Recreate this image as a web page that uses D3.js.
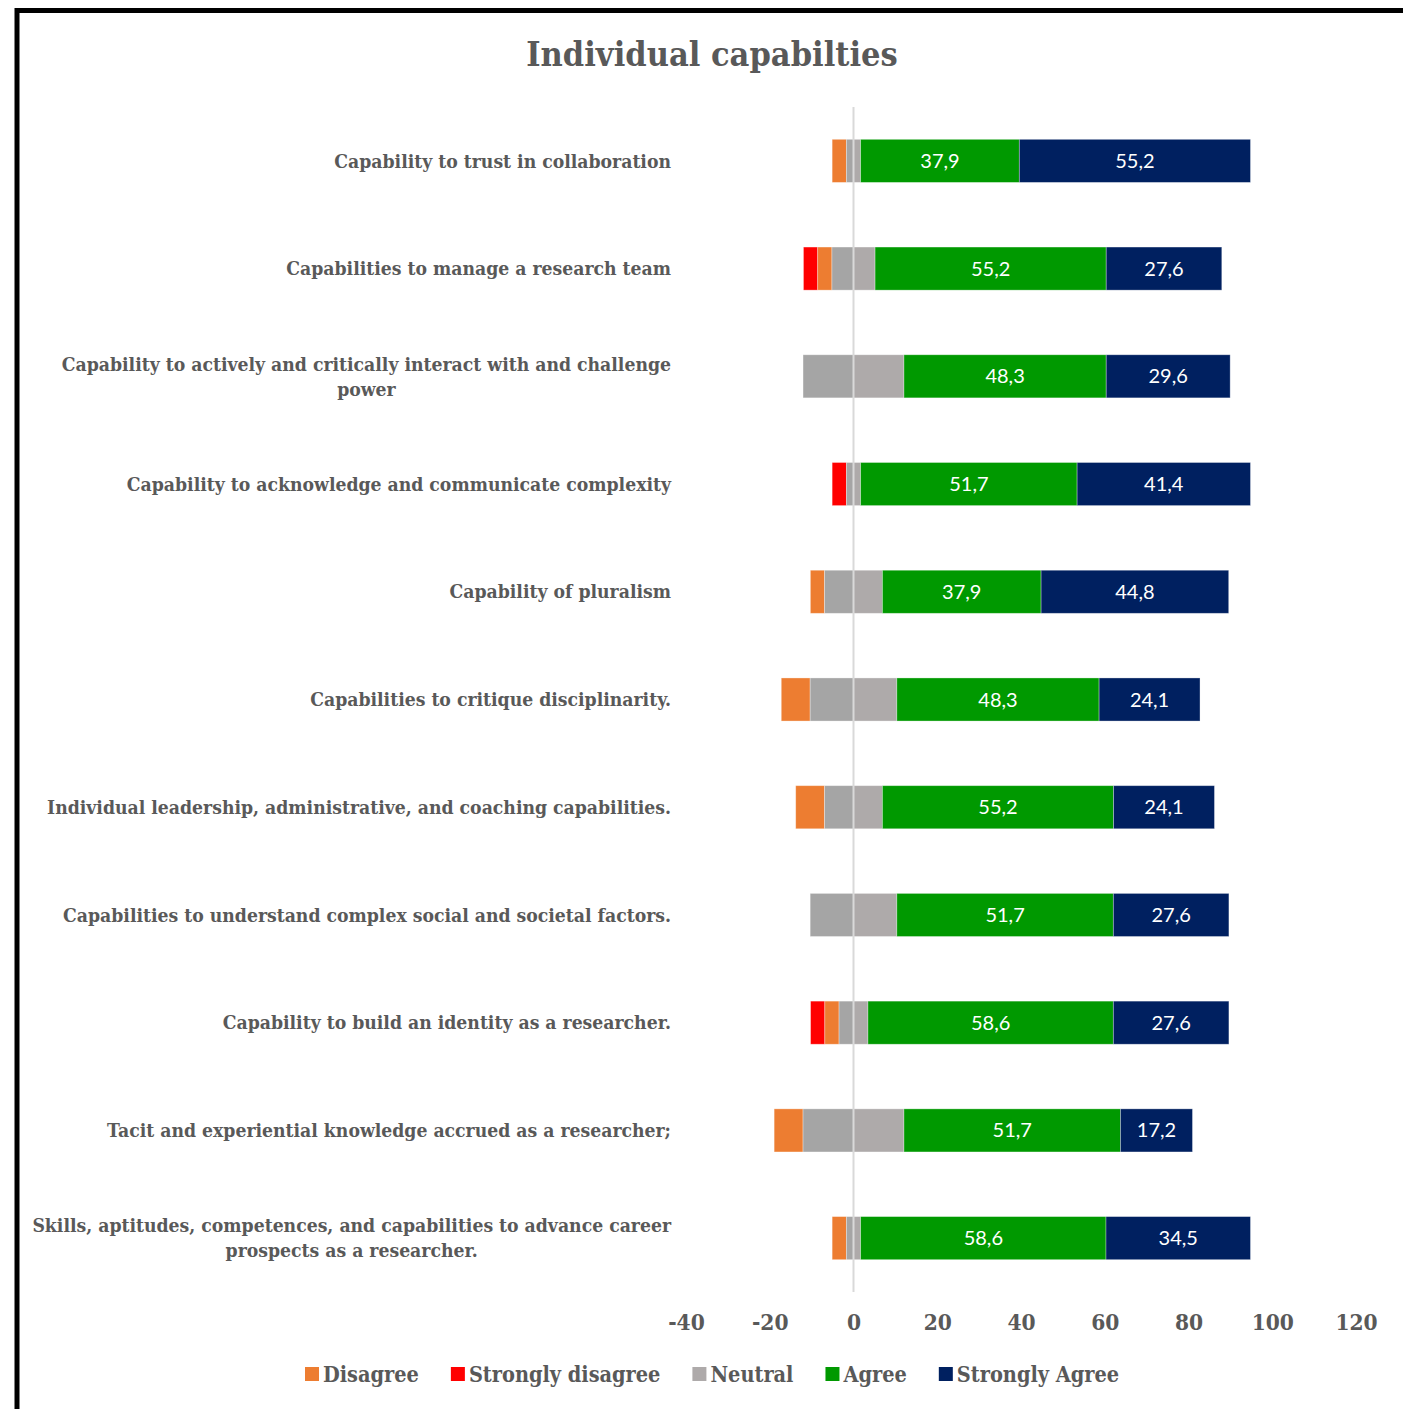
<!DOCTYPE html>
<html>
<head>
<meta charset="utf-8">
<script src="https://cdn.jsdelivr.net/npm/d3@7"></script>
<style>
  html, body { margin: 0; padding: 0; background: #fff; }
  svg { display: block; }
</style>
</head>
<body>
<svg id="chart" width="1403" height="1409"></svg>
<script>
// ---- data ----
const categories = [
  "Capability to trust in collaboration",
  "Capabilities to manage a research team",
  "Capability to actively and critically interact with and challenge\npower",
  "Capability to acknowledge and communicate complexity",
  "Capability of pluralism",
  "Capabilities to critique disciplinarity.",
  "Individual leadership, administrative, and coaching capabilities.",
  "Capabilities to understand complex social and societal factors.",
  "Capability to build an identity as a researcher.",
  "Tacit and experiential knowledge accrued as a researcher;",
  "Skills, aptitudes, competences, and capabilities to advance career\nprospects as a researcher."
];
const disagree         = [3.4, 3.4, 0, 0, 3.4, 6.9, 6.9, 0, 3.4, 6.9, 3.4];
const stronglyDisagree = [0, 3.4, 0, 3.4, 0, 0, 0, 0, 3.4, 0, 0];
const neutral          = [3.4, 10.3, 24.1, 3.4, 13.8, 20.7, 13.8, 20.7, 6.9, 24.1, 3.4];
const agree            = [37.9, 55.2, 48.3, 51.7, 37.9, 48.3, 55.2, 51.7, 58.6, 51.7, 58.6];
const stronglyAgree    = [55.2, 27.6, 29.6, 41.4, 44.8, 24.1, 24.1, 27.6, 27.6, 17.2, 34.5];
const xTicks = [-40, -20, 0, 20, 40, 60, 80, 100, 120];
const seriesNames = ["Disagree", "Strongly disagree", "Neutral", "Agree", "Strongly Agree"];
const title = "Individual capabilties";

// ---- styles ----
const colors = {
  "Disagree": "#ED7D31",
  "Strongly disagree": "#FF0000",
  "NeutralL": "#A5A5A5",
  "Neutral": "#AEAAAA",
  "Agree": "#009900",
  "Strongly Agree": "#002060"
};
const serif = "'DejaVu Serif', serif";
const textColor = "#595959";

const svg = d3.select("#chart");

// frame
svg.append("rect").attr("x", 17).attr("y", 10.5).attr("width", 1500).attr("height", 1500)
  .attr("fill", "none").attr("stroke", "#000").attr("stroke-width", 5);

const x = d3.scaleLinear().domain([-40, 120]).range([686, 1356]);
const y = d3.scaleBand().domain(d3.range(categories.length)).range([107, 1292]).paddingInner(0.6).paddingOuter(0.3);

// build segments
const segs = [];
categories.forEach((c, i) => {
  const h = neutral[i] / 2;
  const parts = [
    ["Strongly disagree", -h - disagree[i] - stronglyDisagree[i], -h - disagree[i], null],
    ["Disagree", -h - disagree[i], -h, null],
    ["NeutralL", -h, 0, null],
    ["Neutral", 0, h, null],
    ["Agree", h, h + agree[i], agree[i]],
    ["Strongly Agree", h + agree[i], h + agree[i] + stronglyAgree[i], stronglyAgree[i]]
  ];
  parts.forEach(p => { if (p[2] - p[1] > 0) segs.push({ i, key: p[0], x0: p[1], x1: p[2], label: p[3] }); });
});

svg.append("g").selectAll("rect").data(segs).join("rect")
  .attr("x", d => x(d.x0)).attr("width", d => x(d.x1) - x(d.x0))
  .attr("y", d => y(d.i)).attr("height", y.bandwidth())
  .attr("fill", d => colors[d.key])
  .attr("stroke", "#fff").attr("stroke-opacity", 0.4).attr("stroke-width", 0.8);

// zero line
svg.append("line").attr("x1", x(0)).attr("x2", x(0)).attr("y1", 107).attr("y2", 1292)
  .attr("stroke", "#D9D9D9").attr("stroke-width", 2);

// value labels
svg.append("g").selectAll("text").data(segs.filter(d => d.label != null)).join("text")
  .attr("x", d => (x(d.x0) + x(d.x1)) / 2)
  .attr("y", d => y(d.i) + y.bandwidth() / 2)
  .attr("dy", "0.35em")
  .attr("text-anchor", "middle")
  .attr("fill", "#fff")
  .style("font-family", "Lato, 'Open Sans', sans-serif")
  .style("font-size", "20px")
  .text(d => d.label.toFixed(1).replace(".", ","));

// x axis labels
const axis = d3.axisBottom(x).tickValues(xTicks).tickSize(0).tickPadding(0)
  .tickFormat(d => String(d));
const ag = svg.append("g").attr("transform", "translate(0,1314)").call(axis);
ag.select(".domain").remove();
ag.selectAll("text")
  .attr("fill", textColor)
  .style("font-family", serif).style("font-weight", "bold").style("font-size", "22.5px")
  .style("font-stretch", "condensed");

// category labels
const labelRight = 671;
categories.forEach((c, i) => {
  const lines = c.split("\n");
  const g = svg.append("g");
  const cy = y(i) + y.bandwidth() / 2;
  const lh = 25;
  const texts = lines.map((ln, k) => g.append("text")
    .attr("y", cy + (k - (lines.length - 1) / 2) * lh)
    .attr("dy", "0.35em")
    .attr("fill", textColor)
    .style("font-family", serif).style("font-weight", "bold").style("font-size", "19.2px")
    .style("font-stretch", "condensed")
    .text(ln));
  const widths = texts.map(t => t.node().getComputedTextLength());
  const maxW = d3.max(widths);
  const cx = labelRight - maxW / 2;
  texts.forEach(t => t.attr("x", cx).attr("text-anchor", "middle"));
});

// title
svg.append("text").attr("x", 712).attr("y", 66).attr("text-anchor", "middle")
  .attr("fill", textColor)
  .style("font-family", serif).style("font-weight", "bold").style("font-size", "34px")
  .style("font-stretch", "condensed")
  .text(title);

// legend
const legendItems = seriesNames;
const lg = svg.append("g");
let lx = 305;
const legendY = 1374;
legendItems.forEach(name => {
  lg.append("rect").attr("x", lx).attr("y", legendY - 7).attr("width", 14).attr("height", 14)
    .attr("fill", colors[name]);
  const t = lg.append("text").attr("x", lx + 18).attr("y", legendY).attr("dy", "0.35em")
    .attr("fill", textColor)
    .style("font-family", serif).style("font-weight", "bold").style("font-size", "21.5px")
    .style("font-stretch", "condensed")
    .text(name);
  lx += 18 + t.node().getComputedTextLength() + 32;
});
</script>
</body>
</html>
